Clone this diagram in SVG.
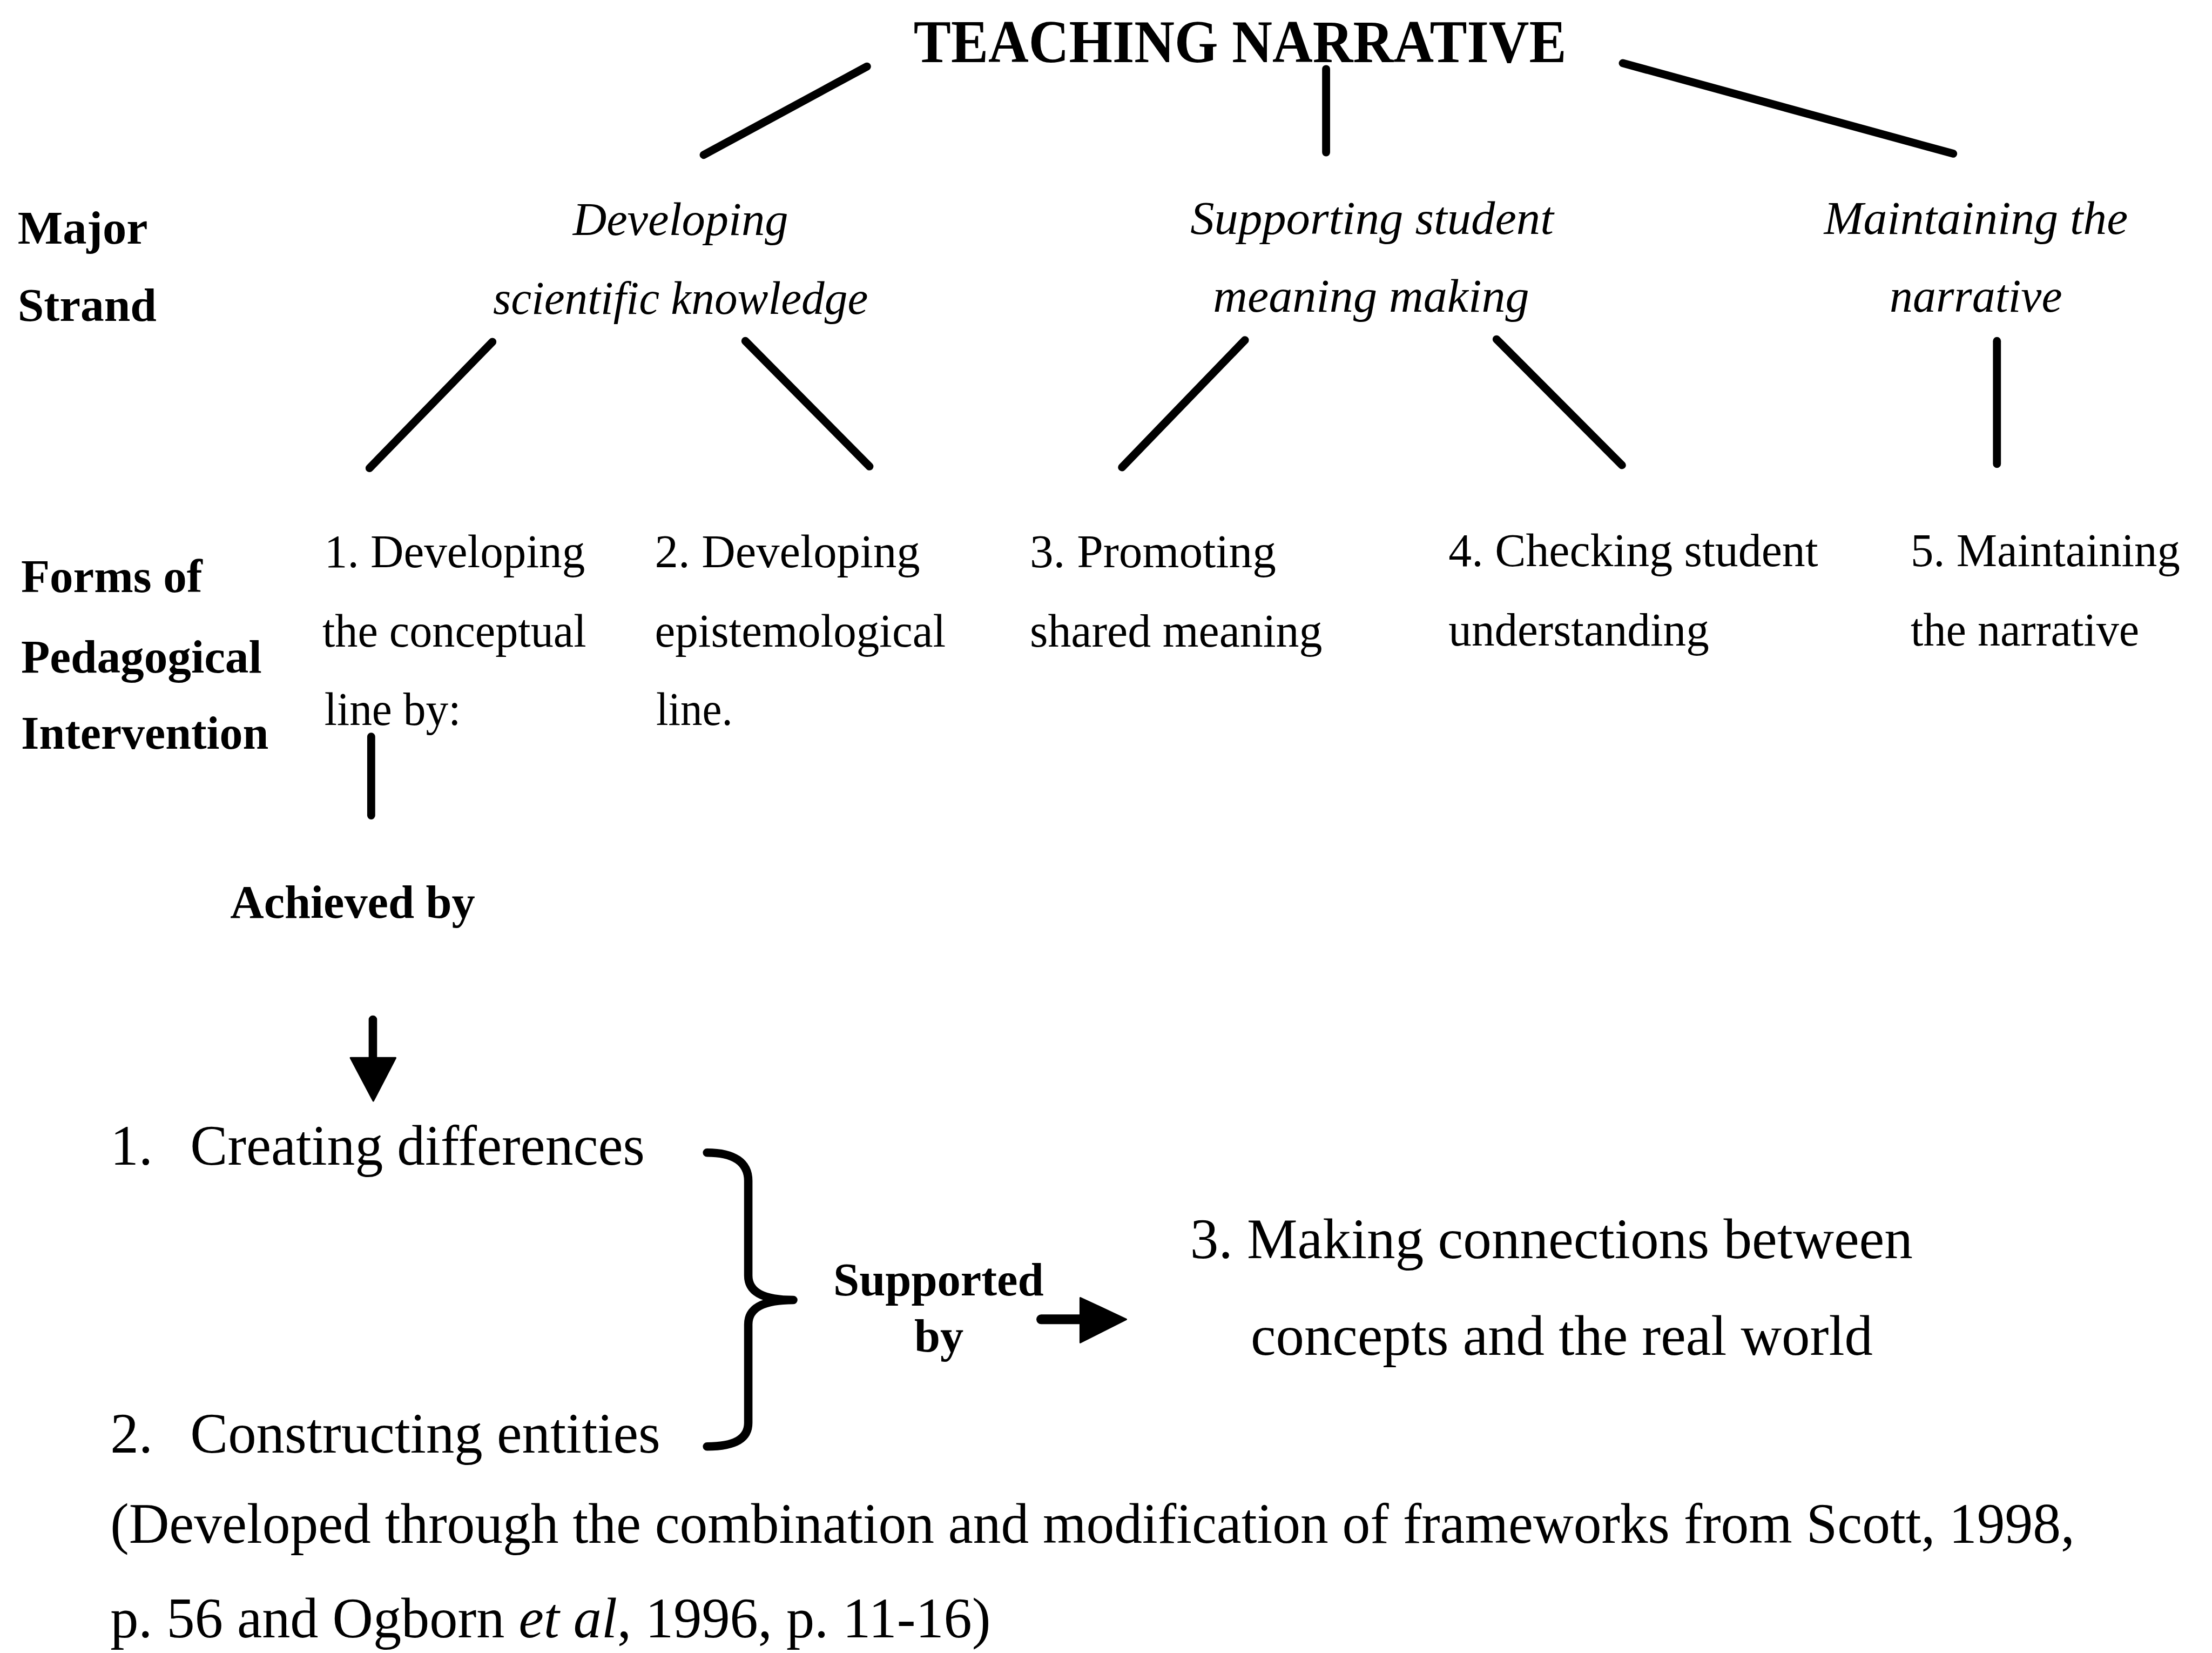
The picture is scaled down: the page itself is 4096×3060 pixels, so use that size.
<svg xmlns="http://www.w3.org/2000/svg" width="4096" height="3060" viewBox="0 0 4096 3060">
  <style>
    text { font-family: "Liberation Serif", "Times New Roman", serif; fill: #000; }
    .title { font-size: 145px; font-weight: bold; }
    .hdr { font-size: 112px; font-weight: bold; }
    .strand { font-size: 112px; font-style: italic; }
    .form { font-size: 112px; }
    .big { font-size: 135px; }
    .ln { stroke: #000; stroke-width: 19; stroke-linecap: round; fill: none; }
    .brace { stroke: #000; stroke-width: 20; stroke-linecap: round; stroke-linejoin: round; fill: none; }
    .head { fill: #000; stroke: #000; stroke-width: 4; stroke-linejoin: round; }
  </style>
  <rect width="4096" height="3060" fill="#fff"/>
  <g transform="scale(0.779299)">
    <!-- connectors -->
    <g id="connectors">
      <line class="ln" x1="2060" y1="158" x2="1672" y2="368"/>
      <line class="ln" x1="3151" y1="164" x2="3151" y2="362"/>
      <line class="ln" x1="3856" y1="150" x2="4641" y2="365"/>
      <line class="ln" x1="1170" y1="812" x2="878" y2="1112"/>
      <line class="ln" x1="1771" y1="810" x2="2066" y2="1108"/>
      <line class="ln" x1="2958" y1="808" x2="2666" y2="1110"/>
      <line class="ln" x1="3556" y1="806" x2="3854" y2="1105"/>
      <line class="ln" x1="4745" y1="810" x2="4745" y2="1102"/>
      <line class="ln" x1="882" y1="1750" x2="882" y2="1937"/>
      <!-- down arrow to the list -->
      <line class="ln" x1="886" y1="2422" x2="886" y2="2520" style="stroke-width:20"/>
      <polygon class="head" points="833,2513 940,2513 887,2615"/>
      <!-- brace grouping items 1 and 2 -->
      <path class="brace" d="M1680,2738 C1745,2738 1778,2762 1778,2805 L1778,3030 C1778,3070 1815,3088 1885,3088 C1815,3088 1778,3106 1778,3146 L1778,3380 C1778,3418 1745,3436 1680,3436"/>
      <!-- right arrow to item 3 -->
      <line class="ln" x1="2474" y1="3134" x2="2570" y2="3134" style="stroke-width:23"/>
      <polygon class="head" points="2567,3083 2676,3134 2567,3189"/>
    </g>

    <g id="title">
      <text class="title" x="2171" y="148" textLength="1551" lengthAdjust="spacingAndGlyphs">TEACHING NARRATIVE</text>
    </g>

    <g id="major-strand-label">
      <text class="hdr" x="42" y="579" textLength="309" lengthAdjust="spacingAndGlyphs">Major</text>
      <text class="hdr" x="42" y="762" textLength="330" lengthAdjust="spacingAndGlyphs">Strand</text>
    </g>

    <g id="strand-scientific">
      <text class="strand" x="1617" y="558" text-anchor="middle" textLength="512" lengthAdjust="spacingAndGlyphs">Developing</text>
      <text class="strand" x="1617" y="745" text-anchor="middle" textLength="891" lengthAdjust="spacingAndGlyphs">scientific knowledge</text>
    </g>
    <g id="strand-meaning">
      <text class="strand" x="3260" y="556" text-anchor="middle" textLength="863" lengthAdjust="spacingAndGlyphs">Supporting student</text>
      <text class="strand" x="3258" y="741" text-anchor="middle" textLength="751" lengthAdjust="spacingAndGlyphs">meaning making</text>
    </g>
    <g id="strand-narrative">
      <text class="strand" x="4695" y="556" text-anchor="middle" textLength="722" lengthAdjust="spacingAndGlyphs">Maintaining the</text>
      <text class="strand" x="4695" y="741" text-anchor="middle" textLength="410" lengthAdjust="spacingAndGlyphs">narrative</text>
    </g>

    <g id="forms-label">
      <text class="hdr" x="50" y="1406" textLength="431" lengthAdjust="spacingAndGlyphs">Forms of</text>
      <text class="hdr" x="50" y="1597" textLength="572" lengthAdjust="spacingAndGlyphs">Pedagogical</text>
      <text class="hdr" x="50" y="1778" textLength="588" lengthAdjust="spacingAndGlyphs">Intervention</text>
    </g>

    <g id="form-1">
      <text class="form" x="771" y="1347" textLength="619" lengthAdjust="spacingAndGlyphs">1. Developing</text>
      <text class="form" x="766" y="1536" textLength="627" lengthAdjust="spacingAndGlyphs">the conceptual</text>
      <text class="form" x="771" y="1722" textLength="324" lengthAdjust="spacingAndGlyphs">line by:</text>
    </g>
    <g id="form-2">
      <text class="form" x="1556" y="1347" textLength="630" lengthAdjust="spacingAndGlyphs">2. Developing</text>
      <text class="form" x="1556" y="1536" textLength="691" lengthAdjust="spacingAndGlyphs">epistemological</text>
      <text class="form" x="1559" y="1722" textLength="182" lengthAdjust="spacingAndGlyphs">line.</text>
    </g>
    <g id="form-3">
      <text class="form" x="2447" y="1347" textLength="585" lengthAdjust="spacingAndGlyphs">3. Promoting</text>
      <text class="form" x="2447" y="1536" textLength="695" lengthAdjust="spacingAndGlyphs">shared meaning</text>
    </g>
    <g id="form-4">
      <text class="form" x="3442" y="1345" textLength="878" lengthAdjust="spacingAndGlyphs">4. Checking student</text>
      <text class="form" x="3442" y="1533" textLength="619" lengthAdjust="spacingAndGlyphs">understanding</text>
    </g>
    <g id="form-5">
      <text class="form" x="4540" y="1345" textLength="640" lengthAdjust="spacingAndGlyphs">5. Maintaining</text>
      <text class="form" x="4540" y="1533" textLength="543" lengthAdjust="spacingAndGlyphs">the narrative</text>
    </g>

    <g id="achieved-by">
      <text class="hdr" x="547" y="2180" textLength="582" lengthAdjust="spacingAndGlyphs">Achieved by</text>
    </g>

    <g id="item-1">
      <text class="big" x="262" y="2767">1.</text>
      <text class="big" x="452" y="2767" textLength="1080" lengthAdjust="spacingAndGlyphs">Creating differences</text>
    </g>
    <g id="item-2">
      <text class="big" x="262" y="3450">2.</text>
      <text class="big" x="452" y="3450" textLength="1117" lengthAdjust="spacingAndGlyphs">Constructing entities</text>
    </g>

    <g id="supported-by">
      <text class="hdr" x="2230" y="3077" text-anchor="middle" textLength="500" lengthAdjust="spacingAndGlyphs">Supported</text>
      <text class="hdr" x="2231" y="3211" text-anchor="middle" textLength="117" lengthAdjust="spacingAndGlyphs">by</text>
    </g>

    <g id="item-3">
      <text class="big" x="2828" y="2988" textLength="1717" lengthAdjust="spacingAndGlyphs">3. Making connections between</text>
      <text class="big" x="2972" y="3218" textLength="1478" lengthAdjust="spacingAndGlyphs">concepts and the real world</text>
    </g>

    <g id="source-note">
      <text class="big" x="262" y="3665" textLength="4668" lengthAdjust="spacingAndGlyphs">(Developed through the combination and modification of frameworks from Scott, 1998,</text>
      <text class="big" x="262" y="3890" textLength="2092" lengthAdjust="spacingAndGlyphs">p. 56 and Ogborn <tspan font-style="italic">et al</tspan>, 1996, p. 11-16)</text>
    </g>
  </g>
</svg>
